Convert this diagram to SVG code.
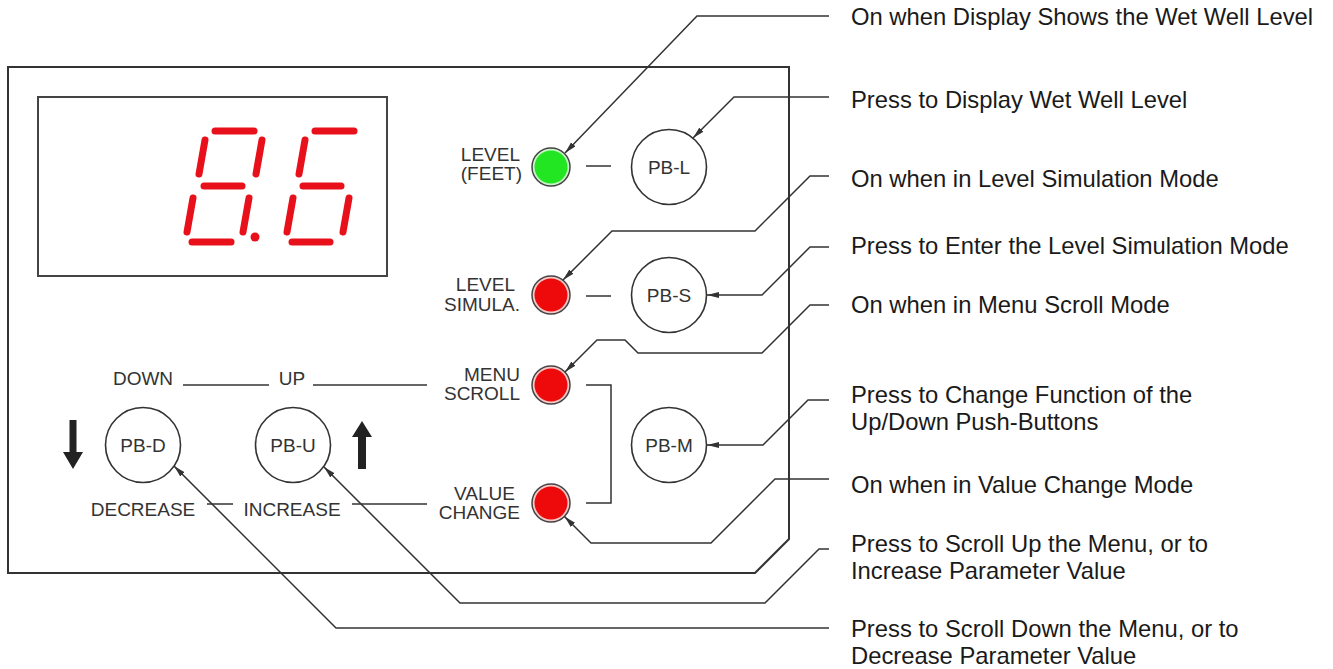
<svg xmlns="http://www.w3.org/2000/svg" width="1333" height="669" viewBox="0 0 1333 669">
<style>
.ln{fill:none;stroke:#333;stroke-width:1.5}
.cl{fill:none;stroke:#333;stroke-width:1.5;marker-end:url(#ah)}
.pl{font-family:"Liberation Sans",Arial,sans-serif;font-size:19px;fill:#333}
.rt{font-family:"Liberation Sans",Arial,sans-serif;font-size:23.8px;fill:#1a1a1a}
.btn{fill:#fff;stroke:#333;stroke-width:1.6}
.seg{stroke:#e8101a;stroke-width:7;stroke-linecap:round;fill:none}
</style>
<defs>
<marker id="ah" markerUnits="userSpaceOnUse" markerWidth="13" markerHeight="7" refX="12" refY="3" orient="auto">
<path d="M0,0 L12,3 L0,6 Z" fill="#333"/>
</marker>
</defs>
<rect width="1333" height="669" fill="#fff"/>
<g id="panel">
<path d="M8,67 H789 V539 L755,573 H8 Z" fill="none" stroke="#333" stroke-width="2"/>
</g>
<g id="display">
<rect x="38" y="97" width="349" height="179" fill="none" stroke="#444" stroke-width="2"/>
<g class="seg">
<line x1="215" y1="131" x2="254" y2="131"/>
<line x1="205" y1="140" x2="199" y2="174"/>
<line x1="262" y1="140" x2="256" y2="174"/>
<line x1="204" y1="186" x2="242" y2="186"/>
<line x1="193" y1="198" x2="187" y2="232"/>
<line x1="249" y1="198" x2="243" y2="232"/>
<line x1="192" y1="242" x2="231" y2="242"/>
<line x1="315" y1="131" x2="354" y2="131"/>
<line x1="305" y1="140" x2="299" y2="174"/>
<line x1="303" y1="186" x2="341" y2="186"/>
<line x1="293" y1="198" x2="287" y2="232"/>
<line x1="349" y1="198" x2="343" y2="232"/>
<line x1="292" y1="242" x2="330" y2="242"/>
</g>
<circle cx="255" cy="237" r="4.5" fill="#e8101a"/>
</g>
<g id="led-level">
<circle cx="551" cy="167" r="19" fill="#c8f5c8" stroke="#444" stroke-width="1.5"/>
<circle cx="551" cy="167" r="16.5" fill="#22e622"/>
<text class="pl" x="520" y="161" text-anchor="end">LEVEL</text>
<text class="pl" x="522" y="180" text-anchor="end">(FEET)</text>
</g>
<g id="led-simula">
<circle cx="551" cy="295" r="19" fill="#f5c8c8" stroke="#444" stroke-width="1.5"/>
<circle cx="551" cy="295" r="16.5" fill="#ee0a0a"/>
<text class="pl" x="515" y="291" text-anchor="end">LEVEL</text>
<text class="pl" x="520" y="311" text-anchor="end">SIMULA.</text>
</g>
<g id="led-menu">
<circle cx="551" cy="385" r="19" fill="#f5c8c8" stroke="#444" stroke-width="1.5"/>
<circle cx="551" cy="385" r="16.5" fill="#ee0a0a"/>
<text class="pl" x="520" y="381" text-anchor="end">MENU</text>
<text class="pl" x="520" y="400" text-anchor="end">SCROLL</text>
</g>
<g id="led-value">
<circle cx="551" cy="503" r="19" fill="#f5c8c8" stroke="#444" stroke-width="1.5"/>
<circle cx="551" cy="503" r="16.5" fill="#ee0a0a"/>
<text class="pl" x="515" y="500" text-anchor="end">VALUE</text>
<text class="pl" x="520" y="519" text-anchor="end">CHANGE</text>
</g>
<g id="pb-l">
<circle class="btn" cx="669" cy="167" r="37.5"/>
<text class="pl" x="669" y="174" text-anchor="middle">PB-L</text>
</g>
<g id="pb-s">
<circle class="btn" cx="669" cy="295" r="37.5"/>
<text class="pl" x="669" y="302" text-anchor="middle">PB-S</text>
</g>
<g id="pb-m">
<circle class="btn" cx="669" cy="445" r="37.5"/>
<text class="pl" x="669" y="452" text-anchor="middle">PB-M</text>
</g>
<g id="pb-d">
<circle class="btn" cx="143" cy="445" r="37.5"/>
<text class="pl" x="143" y="452" text-anchor="middle">PB-D</text>
<text class="pl" x="143" y="385" text-anchor="middle">DOWN</text>
<text class="pl" x="143" y="516" text-anchor="middle">DECREASE</text>
<path d="M69.5,420 H76.5 V452 H83 L73,469 L63,452 H69.5 Z" fill="#222"/>
</g>
<g id="pb-u">
<circle class="btn" cx="293" cy="445" r="37.5"/>
<text class="pl" x="293" y="452" text-anchor="middle">PB-U</text>
<text class="pl" x="292" y="385" text-anchor="middle">UP</text>
<text class="pl" x="292" y="516" text-anchor="middle">INCREASE</text>
<path d="M358,469 H366 V437 H372 L362,421 L352,437 H358 Z" fill="#222"/>
</g>
<g id="labels">
<text class="rt" x="851" y="25">On when Display Shows the Wet Well Level</text>
<text class="rt" x="851" y="108">Press to Display Wet Well Level</text>
<text class="rt" x="851" y="187">On when in Level Simulation Mode</text>
<text class="rt" x="851" y="254">Press to Enter the Level Simulation Mode</text>
<text class="rt" x="851" y="313">On when in Menu Scroll Mode</text>
<text class="rt" x="851" y="403">Press to Change Function of the</text>
<text class="rt" x="851" y="430">Up/Down Push-Buttons</text>
<text class="rt" x="851" y="493">On when in Value Change Mode</text>
<text class="rt" x="851" y="552">Press to Scroll Up the Menu, or to</text>
<text class="rt" x="851" y="579">Increase Parameter Value</text>
<text class="rt" x="851" y="637">Press to Scroll Down the Menu, or to</text>
<text class="rt" x="851" y="664">Decrease Parameter Value</text>
</g>
<g id="connectors">
<path class="ln" d="M586,166 H611"/>
<path class="ln" d="M586,296 H611"/>
<path class="ln" d="M586,385 H611 V503 H586"/>
<path class="ln" d="M183,385 H269"/>
<path class="ln" d="M313,385 H427"/>
<path class="ln" d="M207,504 H233"/>
<path class="ln" d="M352,504 H427"/>
<path class="cl" d="M829,16 H697 L565,153"/>
<path class="cl" d="M829,97 H734 L693,138"/>
<path class="cl" d="M829,176 H810 L755,231 H612 L563,280"/>
<path class="cl" d="M829,247 H810 L762,295 H707"/>
<path class="cl" d="M829,305 H810 L762,353 H638 L625,340 H597 L565,372"/>
<path class="cl" d="M829,400 H808 L763,445 H707"/>
<path class="cl" d="M829,479 H775 L711,543 H591 L564.5,516.5"/>
<path class="cl" d="M829,549 H819 L765,603 H460 L324,467"/>
<path class="cl" d="M829,628 H336 L174,466"/>
</g>
</svg>
